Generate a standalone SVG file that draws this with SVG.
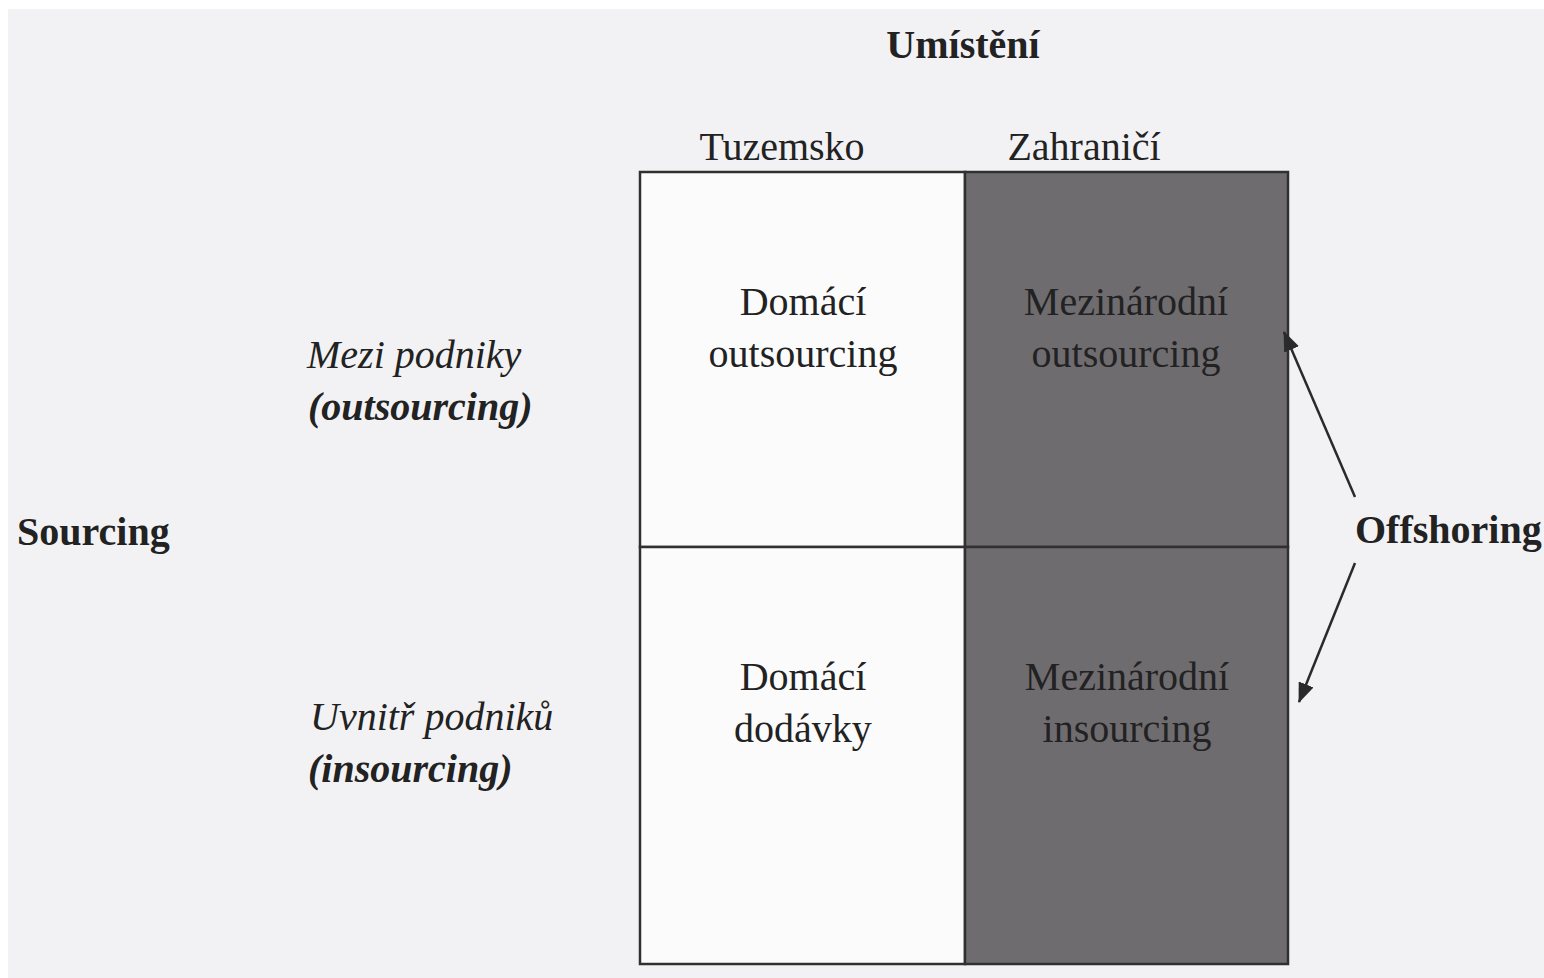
<svg xmlns="http://www.w3.org/2000/svg" width="1544" height="978" viewBox="0 0 1544 978">
<defs>
<marker id="ah" markerWidth="20" markerHeight="16" refX="19" refY="8" orient="auto" markerUnits="userSpaceOnUse" viewBox="0 0 20 16">
<path d="M0,0 L20,8 L0,16 z" fill="#2a2a2a"/>
</marker>
</defs>
<style>
text{font-family:"Liberation Serif","Times New Roman",serif;font-size:40px;fill:#222222}
.b{font-weight:bold}
.i{font-style:italic}
.c{text-anchor:middle}
.conn line{stroke:#2a2a2a;stroke-width:2.5;marker-end:url(#ah)}
</style>
<rect width="1544" height="978" fill="#ffffff"/>
<rect x="8" y="9" width="1536" height="969" fill="#f2f2f4"/>
<g id="cell-domaci-outsourcing">
<rect x="640" y="172" width="325" height="375" fill="#fbfbfc" stroke="#303030" stroke-width="2.5"/>
<text class="c" x="803" y="315">Domácí</text>
<text class="c" x="803" y="367">outsourcing</text>
</g>
<g id="cell-mezinarodni-outsourcing">
<rect x="965" y="172" width="323" height="375" fill="#6f6c70" stroke="#303030" stroke-width="2.5"/>
<text class="c" x="1126" y="315">Mezinárodní</text>
<text class="c" x="1126" y="367">outsourcing</text>
</g>
<g id="cell-domaci-dodavky">
<rect x="640" y="547" width="325" height="417" fill="#fbfbfc" stroke="#303030" stroke-width="2.5"/>
<text class="c" x="803" y="690">Domácí</text>
<text class="c" x="803" y="742">dodávky</text>
</g>
<g id="cell-mezinarodni-insourcing">
<rect x="965" y="547" width="323" height="417" fill="#6f6c70" stroke="#303030" stroke-width="2.5"/>
<text class="c" x="1127" y="690">Mezinárodní</text>
<text class="c" x="1127" y="742">insourcing</text>
</g>
<g id="label-umisteni"><text class="b c" x="963" y="58">Umístění</text></g>
<g id="label-tuzemsko"><text class="c" x="782" y="160">Tuzemsko</text></g>
<g id="label-zahranici"><text class="c" x="1084" y="160">Zahraničí</text></g>
<g id="label-sourcing"><text class="b" x="17" y="545">Sourcing</text></g>
<g id="label-mezi">
<text class="i" x="307" y="368">Mezi podniky</text>
<text class="b i" x="308" y="420">(outsourcing)</text>
</g>
<g id="label-uvnitr">
<text class="i" x="310" y="730">Uvnitř podniků</text>
<text class="b i" x="308" y="782">(insourcing)</text>
</g>
<g id="label-offshoring"><text class="b" x="1355" y="543">Offshoring</text></g>
<g class="conn" id="connectors">
<line x1="1355" y1="497" x2="1284" y2="332"/>
<line x1="1355" y1="563" x2="1299" y2="702"/>
</g>
</svg>
